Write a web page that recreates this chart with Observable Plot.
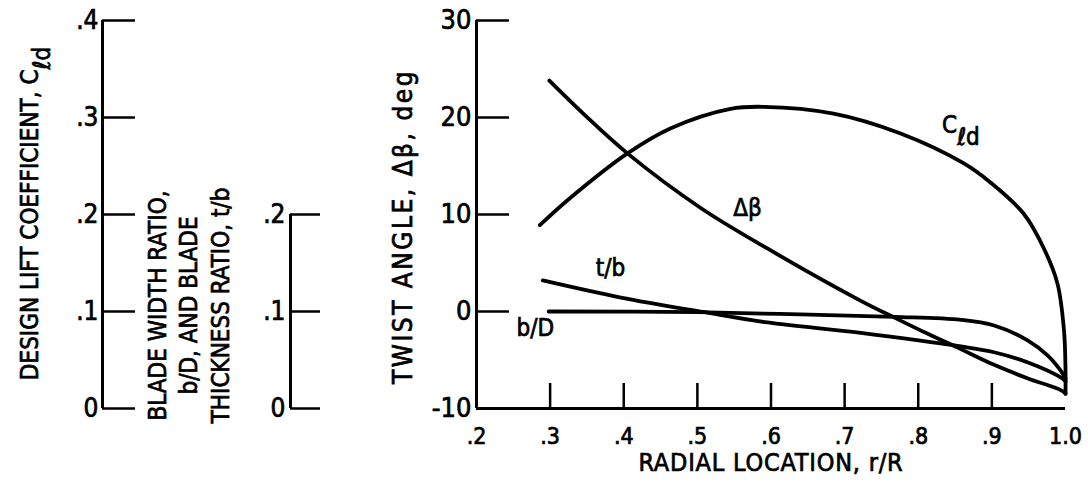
<!DOCTYPE html>
<html>
<head>
<meta charset="utf-8">
<script src="https://cdn.jsdelivr.net/npm/d3@7"></script>
<script src="https://cdn.jsdelivr.net/npm/@observablehq/plot@0.6"></script>
<style>
  body { margin: 0; background: #fff; }
  #chart { display: flex; width: 1088px; height: 487px; background: #fff; }
  #chart svg { display: block; flex: none; }
  #chart text { stroke: #000; stroke-width: 0.7px; }
</style>
</head>
<body>
<div id="chart"></div>
<script>
// ---------------- data ----------------
// Design lift coefficient C_ld vs radial location r/R
const cldR      = [0.286, 0.328, 0.405, 0.464, 0.545, 0.590, 0.685, 0.776, 0.862, 0.898, 0.943, 0.970, 0.989, 0.998, 1.000, 1.000];
const cldValues = [0.189, 0.2175, 0.263, 0.289, 0.309, 0.311, 0.304, 0.2835, 0.2526, 0.233, 0.201, 0.166, 0.129, 0.080, 0.040, 0.015];

// Twist angle Δβ (deg) vs radial location
const twistR   = [0.299, 0.345, 0.405, 0.504, 0.595, 0.722, 0.767, 0.813, 0.853, 0.903, 0.949, 0.9935, 1.000];
const twistDeg = [23.8, 20.4, 16.3, 10.7, 6.5, 1.1, -0.6, -2.3, -3.7, -5.5, -6.9, -8.1, -8.45];

// Blade thickness ratio t/b
const tbR      = [0.290, 0.396, 0.508, 0.595, 0.722, 0.858, 0.903, 0.949, 0.9935, 1.000];
const tbValues = [0.132, 0.1144, 0.0995, 0.0887, 0.078, 0.064, 0.058, 0.0474, 0.032, 0.028];

// Blade width ratio b/D
const bdR      = [0.298, 0.500, 0.640, 0.767, 0.858, 0.903, 0.949, 0.976, 0.9935, 1.000];
const bdValues = [0.100, 0.0993, 0.097, 0.0945, 0.0914, 0.0856, 0.070, 0.0546, 0.039, 0.031];

// axes / ticks
const xDomain     = [0.2, 1.0];
const xTickLabels = [0.2, 0.3, 0.4, 0.5, 0.6, 0.7, 0.8, 0.9, 1.0];
const xTickMarks  = [0.3, 0.4, 0.5, 0.6, 0.7, 0.8, 0.9];
const twistDomain = [-10, 30];
const twistTicks  = [-10, 0, 10, 20, 30];
const cldDomain   = [0, 0.4];
const cldTicks    = [0, 0.1, 0.2, 0.3, 0.4];
const ratioRange  = [0, 0.2];
const ratioTicks  = [0, 0.1, 0.2];

// curve labels
const curveLabelText = ["Cℓd", "Δβ", "t/b", "b/D"];
const curveLabelR    = [0.858, 0.568, 0.382, 0.280];
const curveLabelDeg  = [19.2, 10.6, 4.5, -1.75];

// titles
const cldTitle   = "DESIGN LIFT COEFFICIENT, Cℓd";
const ratioTitle = "BLADE WIDTH RATIO,\nb/D, AND BLADE\nTHICKNESS RATIO, t/b";
const twistTitle = "TWIST ANGLE, Δβ, deg";
const xTitle     = "RADIAL LOCATION, r/R";

// ---------------- helpers ----------------
const FONT = "'Liberation Sans Narrow','DejaVu Sans Condensed','Arial Narrow',sans-serif";
// the C_ld and ratio axes share the twist-angle scale: 0 -> -10 deg, 0.4 -> 30 deg
const auxToDeg = d3.scaleLinear().domain(cldDomain).range(twistDomain);
const fmtFrac = d => d === 0 ? "0" : d3.format(".1f")(d).replace(/^0/, "");
const fmtInt = d => String(d);

const cldData   = cldR.map((r, i) => ({r, deg: auxToDeg(cldValues[i])}));
const twistData = twistR.map((r, i) => ({r, deg: twistDeg[i]}));
const tbData    = tbR.map((r, i) => ({r, deg: auxToDeg(tbValues[i])}));
const bdData    = bdR.map((r, i) => ({r, deg: auxToDeg(bdValues[i])}));
const labelData = curveLabelText.map((t, i) => ({t, r: curveLabelR[i], deg: curveLabelDeg[i]}));

const H = 487, MT = 20, MB = 79;
const baseStyle = {fontFamily: FONT, fontSize: "24px", color: "#000", background: "#fff", overflow: "visible"};
const LW = 3.8;

// ---------------- C_ld axis ----------------
const cldPlot = Plot.plot({
  width: 140, height: H, marginLeft: 102, marginRight: 0, marginTop: MT, marginBottom: MB,
  x: {domain: [0, 1], axis: null},
  y: {domain: cldDomain},
  style: baseStyle,
  marks: [
    Plot.ruleX([0], {y1: cldDomain[0], y2: cldDomain[1], strokeWidth: 3}),
    Plot.axisY(cldTicks, {tickSize: -33, fill: "none", strokeWidth: 2.5, label: null}),
    Plot.axisY(cldTicks, {tickSize: 0, tickPadding: 4, tickFormat: fmtFrac, fontSize: 26, label: null}),
    Plot.text([cldTitle], {text: d => d, frameAnchor: "left", textAnchor: "middle", rotate: -90, dx: -72, dy: -1, fontSize: 24})
  ]
});

// ---------------- b/D, t/b axis ----------------
const ratioPlot = Plot.plot({
  width: 200, height: H, marginLeft: 150, marginRight: 0, marginTop: MT, marginBottom: MB,
  x: {domain: [0, 1], axis: null},
  y: {domain: cldDomain},
  style: baseStyle,
  marks: [
    Plot.ruleX([0], {y1: ratioRange[0], y2: ratioRange[1], strokeWidth: 3}),
    Plot.axisY(ratioTicks, {tickSize: -30, fill: "none", strokeWidth: 2.5, label: null}),
    Plot.axisY(ratioTicks, {tickSize: 0, tickPadding: 5, tickFormat: fmtFrac, fontSize: 26, label: null}),
    Plot.text([ratioTitle], {text: d => d, y: 0.1, frameAnchor: "left", textAnchor: "middle", rotate: -90, dx: -103, dy: -6, fontSize: 24, lineHeight: 1.3})
  ]
});

// ---------------- main plot ----------------
const mainPlot = Plot.plot({
  width: 748, height: H, marginLeft: 136, marginRight: 23, marginTop: MT, marginBottom: MB,
  x: {domain: xDomain},
  y: {domain: twistDomain},
  style: baseStyle,
  marks: [
    Plot.ruleX([xDomain[0]], {strokeWidth: 3}),
    Plot.ruleY([twistDomain[0]], {strokeWidth: 3}),
    Plot.axisY(twistTicks, {tickSize: -33, fill: "none", strokeWidth: 2.5, label: null}),
    Plot.axisY(twistTicks, {tickSize: 0, tickPadding: 5, tickFormat: fmtInt, fontSize: 27, label: null}),
    Plot.axisX(xTickMarks, {tickSize: -25, fill: "none", strokeWidth: 2.5, label: null}),
    Plot.axisX(xTickLabels, {tickSize: 0, tickPadding: 19, tickFormat: fmtFrac, fontSize: 23, label: null}),
    Plot.line(cldData,   {x: "r", y: "deg", curve: "catmull-rom", strokeWidth: LW}),
    Plot.line(twistData, {x: "r", y: "deg", curve: "catmull-rom", strokeWidth: LW}),
    Plot.line(tbData,    {x: "r", y: "deg", curve: "catmull-rom", strokeWidth: LW}),
    Plot.line(bdData,    {x: "r", y: "deg", curve: "catmull-rom", strokeWidth: LW}),
    Plot.text(labelData, {x: "r", y: "deg", text: "t", textAnchor: "middle", fontSize: 24}),
    Plot.text([twistTitle], {text: d => d, frameAnchor: "left", textAnchor: "middle", rotate: -90, dx: -73, dy: 12, fontSize: 26}),
    Plot.text([xTitle], {text: d => d, frameAnchor: "bottom", textAnchor: "middle", dy: 62, fontSize: 25})
  ]
});

// subscript "ℓd" in C_ld
function subscriptEll(svg) {
  d3.select(svg).selectAll("text").each(function () {
    const t = this.textContent;
    if (t.endsWith("ℓd") && !this.querySelector("tspan")) {
      const base = t.slice(0, -2);
      this.textContent = "";
      const sel = d3.select(this);
      sel.append("tspan").text(base);
      sel.append("tspan").attr("dy", "0.5em").text("ℓd");
    }
  });
}
// wider letter spacing on the main titles, as in the reference
function spaceTitle(svg, title, spacing) {
  d3.select(svg).selectAll("text")
    .filter(function () { return this.textContent === title; })
    .style("letter-spacing", spacing);
}
[cldPlot, mainPlot].forEach(subscriptEll);
spaceTitle(mainPlot, twistTitle, "2.5px");
spaceTitle(mainPlot, xTitle, "0.8px");

const chart = document.getElementById("chart");
chart.append(cldPlot, ratioPlot, mainPlot);
</script>
</body>
</html>
